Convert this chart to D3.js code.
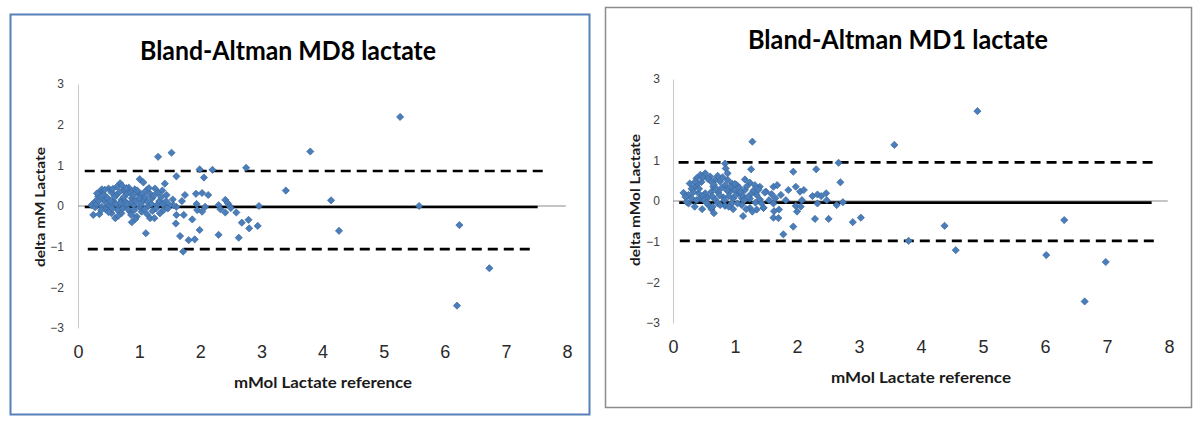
<!DOCTYPE html>
<html><head><meta charset="utf-8">
<script src="https://cdn.jsdelivr.net/npm/d3@7/dist/d3.min.js"></script>
<style>html,body{margin:0;padding:0;background:#fff;}svg{display:block;}</style>
</head><body>
<svg id="c" width="1200" height="421"></svg>
<script>
// ---------- DATA ----------
const xTicks = [0,1,2,3,4,5,6,7,8];
const yTicks = [-3,-2,-1,0,1,2,3];

const md8Title = "Bland-Altman MD8 lactate";
const md8YLabel = "delta mM Lactate";
const md1Title = "Bland-Altman MD1 lactate";
const md1YLabel = "delta mMol Lactate";
const xLabel = "mMol Lactate reference";

// [reference, delta]
const md8Points = [
 [5.27,2.19],[3.80,1.34],[3.40,0.38],[4.14,0.14],[4.27,-0.61],[5.58,0.0],[6.24,-0.47],[6.73,-1.53],[6.20,-2.45],[2.96,0.0],[2.94,-0.49],
 [2.75,0.94],[2.20,0.89],[1.99,0.90],[2.06,0.70],[1.61,0.73],[1.53,1.31],[1.55,0.16],[1.70,0.12],[1.75,0.27],[1.93,0.30],[2.03,0.32],[2.13,0.27],
 [1.61,-0.02],[1.94,0.05],[1.95,-0.10],[2.03,-0.14],[2.08,-0.02],[2.30,0.02],[2.33,-0.08],[2.41,0.15],[2.45,0.07],[2.41,-0.16],[2.48,0.0],[2.59,-0.16],
 [1.61,-0.22],[1.60,-0.43],[1.73,-0.22],[1.87,-0.33],[2.68,-0.41],[2.79,-0.34],[2.80,-0.55],[1.99,-0.59],[1.67,-0.74],[1.81,-0.84],[1.91,-0.82],
 [2.30,-0.71],[2.63,-0.78],[1.72,-1.12],[1.56,0.02],[2.50,-0.05],
 [1.31,1.21],[0.69,0.56],[1.01,0.66],[1.07,0.58],[1.42,0.55],[0.36,0.35],[0.50,0.43],[0.55,0.33],[0.33,0.23],[0.41,0.16],[0.28,0.11],[0.63,0.27],
 [0.74,0.39],[0.80,0.30],[0.85,0.35],[0.93,0.41],[0.99,0.31],[1.12,0.39],[1.18,0.30],[1.26,0.43],[1.31,0.33],[1.38,0.38],[1.45,0.27],[1.21,0.19],
 [1.07,0.15],[0.88,0.19],[0.71,0.15],[0.58,0.11],[0.47,0.07],[0.22,0.02],[0.28,-0.03],[0.39,-0.02],[0.52,0.0],[0.66,0.02],[0.77,-0.02],[0.91,0.02],
 [1.01,-0.03],[1.15,0.0],[1.29,0.02],[1.42,-0.02],[1.50,0.02],[0.25,-0.22],[0.35,-0.20],[0.55,-0.18],[0.61,-0.30],[0.71,-0.18],[0.85,-0.14],[0.88,-0.40],
 [0.96,-0.26],[1.04,-0.14],[1.18,-0.30],[1.25,-0.30],[1.34,-0.18],[1.40,-0.10],[1.11,-0.67],[0.31,0.31],[0.39,0.41],
 [0.42,0.28],[0.45,-0.08],[0.48,0.20],[0.53,0.12],[0.56,-0.06],[0.60,0.22],[0.62,0.05],[0.65,-0.10],[0.68,0.35],[0.70,0.08],[0.73,-0.06],[0.75,0.22],
 [0.78,0.10],[0.82,-0.08],[0.83,0.45],[0.86,0.08],[0.90,0.26],[0.92,-0.10],[0.95,0.12],[0.97,0.38],[1.00,0.20],[1.03,0.05],[1.05,0.30],[1.09,-0.08],
 [1.10,0.22],[1.14,0.10],[1.16,0.44],[1.20,0.05],[1.22,-0.12],[1.24,0.25],[1.28,-0.06],[1.33,0.12],[1.36,0.22],[1.39,0.05],[1.44,0.12],[1.47,-0.06],
 [0.30,0.05],[0.34,0.12],[0.38,-0.10],[0.44,0.40],[0.57,0.42],[0.64,0.48],[0.72,0.50],[0.79,0.44],[0.87,-0.22],[0.94,-0.32],[1.13,-0.20],[0.66,-0.24],
 [0.50,-0.15],[0.80,0.05]
];
// [level, start, end]
const md8Mean = [-0.025, 0.11, 7.52];
const md8Upper = [0.86, 0.11, 7.62];
const md8Lower = [-1.06, 0.16, 7.46];

const md1Points = [
 [4.91,2.21],[3.57,1.38],[3.80,-0.98],[4.38,-0.61],[4.56,-1.21],[6.31,-0.47],[6.02,-1.33],[6.98,-1.50],[6.64,-2.47],[3.03,-0.41],[2.90,-0.52],
 [2.67,0.94],[2.70,0.46],[1.94,0.72],[2.31,0.78],[1.40,0.35],[1.50,0.23],[1.59,0.17],[1.62,0.35],[1.68,0.39],[1.65,0.07],[1.74,0.15],[1.86,0.27],
 [1.98,0.35],[2.05,0.23],[2.11,0.27],[1.82,0.02],[2.08,0.02],[2.25,0.12],[2.33,0.16],[2.39,0.12],[2.47,0.19],[2.48,0.02],[2.33,-0.06],[2.64,-0.10],
 [2.74,-0.03],[1.46,-0.17],[1.62,-0.06],[1.63,-0.25],[1.71,-0.21],[1.62,-0.41],[1.70,-0.42],[1.98,-0.12],[2.06,-0.14],[2.00,-0.26],[1.94,-0.63],
 [1.78,-0.82],[2.29,-0.44],[2.51,-0.44],[1.55,0.02],
 [1.28,1.46],[0.84,0.92],[0.85,0.80],[0.88,0.68],[1.26,0.78],[0.52,0.68],[0.44,0.64],[0.60,0.60],[0.38,0.56],[0.68,0.52],[0.76,0.48],[0.27,0.43],
 [0.35,0.35],[0.46,0.47],[0.65,0.35],[0.84,0.39],[0.95,0.43],[1.03,0.39],[1.16,0.53],[1.24,0.45],[1.32,0.39],[0.17,0.20],[0.25,0.15],[0.41,0.19],
 [0.52,0.19],[0.62,0.23],[0.73,0.21],[0.92,0.23],[1.05,0.19],[1.16,0.27],[1.27,0.19],[1.35,0.15],[1.48,0.21],[0.30,0.07],[0.44,0.07],[0.57,0.09],
 [0.68,0.04],[0.81,0.09],[0.97,0.06],[1.11,0.07],[1.24,0.06],[1.40,0.04],[0.35,-0.14],[0.47,-0.20],[0.57,-0.10],[0.62,-0.20],[0.66,-0.30],[0.97,-0.20],
 [1.13,-0.37],[1.24,-0.17],[1.35,-0.21],[1.46,-0.17],[0.25,-0.06],[0.84,-0.12],[1.11,-0.10],
 [0.30,0.30],[0.33,0.22],[0.40,0.42],[0.42,0.30],[0.48,0.12],[0.50,0.02],[0.63,0.12],[0.66,0.40],[0.70,0.30],[0.72,-0.05],[0.75,0.14],[0.78,0.32],
 [0.80,0.58],[0.83,0.02],[0.87,0.26],[0.90,0.12],[0.93,0.35],[0.95,-0.05],[0.99,0.28],[1.01,0.14],[1.04,-0.06],[1.07,0.33],[1.09,0.22],[1.13,0.12],
 [1.15,0.02],[1.19,0.36],[1.21,0.10],[1.30,0.26],[1.33,-0.04],[1.38,0.28],[1.43,-0.06],[0.20,0.10],[0.22,-0.02],[0.38,0.02],[0.54,-0.04],[0.60,0.50],
 [0.72,0.62],[0.88,0.52],[1.00,0.42],[0.48,0.58],[0.56,0.55],[0.36,0.48],[0.64,-0.14],[0.76,-0.10],[0.90,-0.14],[1.18,-0.20],[1.28,-0.26]
];
const md1Mean = [-0.04, 0.10, 7.72];
const md1Upper = [0.95, 0.09, 7.82];
const md1Lower = [-0.98, 0.11, 7.82];

// ---------- DRAW ----------
const svg = d3.select("#c");

function panel(cfg) {
  const g = svg.append("g");
  g.append("rect").attr("x", cfg.box[0]).attr("y", cfg.box[1]).attr("width", cfg.box[2]).attr("height", cfg.box[3])
    .attr("fill", "#fff").attr("stroke", cfg.boxColor).attr("stroke-width", cfg.boxWidth);

  const x = d3.scaleLinear().domain([0, 8]).range(cfg.xr);
  const y = d3.scaleLinear().domain([-3, 3]).range(cfg.yr);

  const ya = g.append("g").attr("transform", `translate(${x(0)},0)`)
    .call(d3.axisLeft(y).tickValues(yTicks).tickSize(0).tickPadding(cfg.yPad).tickFormat(d3.format("d")));
  ya.select(".domain").attr("stroke", "#c8c8c8").attr("stroke-width", 1);
  ya.selectAll("text").attr("font-family", "Liberation Sans, Arial, sans-serif").attr("font-size", 12).attr("fill", "#404040");

  const xa = g.append("g").attr("transform", `translate(0,${cfg.xLabTop})`)
    .call(d3.axisBottom(x).tickValues(xTicks).tickSize(0).tickPadding(0).tickFormat(d3.format("d")));
  xa.select(".domain").remove();
  xa.selectAll("text").attr("font-family", "Liberation Sans, Arial, sans-serif").attr("font-size", 18).attr("fill", "#2a2a2a");

  g.append("line").attr("x1", x(0)).attr("x2", x(7.98)).attr("y1", y(0)).attr("y2", y(0))
    .attr("stroke", "#8a8a8a").attr("stroke-width", 1);

  const lines = [
    {v: cfg.upper, dash: "10,6", w: 2.6},
    {v: cfg.lower, dash: "10,6", w: 2.6},
    {v: cfg.mean, dash: null, w: 2.6}
  ];
  lines.forEach(l => {
    g.append("line").attr("x1", x(l.v[1])).attr("x2", x(l.v[2])).attr("y1", y(l.v[0])).attr("y2", y(l.v[0]))
      .attr("stroke", "#000").attr("stroke-width", l.w).attr("stroke-dasharray", l.dash);
  });

  const r = 3.6;
  const diamond = `M0,${-r}L${r},0L0,${r}L${-r},0Z`;
  g.append("g").selectAll("path").data(cfg.points).join("path")
    .attr("d", diamond)
    .attr("transform", d => `translate(${x(d[0])},${y(d[1])})`)
    .attr("fill", "#4a7ebb").attr("stroke", "#3a669c").attr("stroke-width", 0.7);

  g.append("text").attr("x", cfg.title[1]).attr("y", cfg.title[2]).attr("text-anchor", "middle")
    .attr("font-family", "Lato, 'Open Sans', sans-serif").attr("font-weight", "bold").attr("font-size", 26)
    .attr("textLength", cfg.title[3]).attr("lengthAdjust", "spacingAndGlyphs").attr("fill", "#000").text(cfg.title[0]);
  g.append("text").attr("x", cfg.xt[0]).attr("y", cfg.xt[1]).attr("text-anchor", "middle")
    .attr("font-family", "Lato, 'Open Sans', sans-serif").attr("font-weight", "bold").attr("font-size", 16)
    .attr("textLength", cfg.xt[2]).attr("lengthAdjust", "spacingAndGlyphs").attr("fill", "#1a1a1a").text(xLabel);
  g.append("text").attr("transform", `translate(${cfg.yt[0]},${cfg.yt[1]}) rotate(-90)`).attr("text-anchor", "middle")
    .attr("dy", "0.35em")
    .attr("font-family", "Lato, 'Open Sans', sans-serif").attr("font-weight", "bold").attr("font-size", 14)
    .attr("textLength", cfg.yt[3]).attr("lengthAdjust", "spacingAndGlyphs").attr("fill", "#1a1a1a").text(cfg.yt[2]);
}

panel({
  box: [10.5, 14.5, 579, 400], boxColor: "#5580b8", boxWidth: 2,
  xr: [78, 567], yr: [328, 84], yPad: 14, xLabTop: 345,
  points: md8Points, mean: md8Mean, upper: md8Upper, lower: md8Lower,
  title: [md8Title, 288, 60, 296], xt: [323, 388, 178], yt: [40, 207, md8YLabel, 120]
});
panel({
  box: [605.5, 7.5, 586, 400], boxColor: "#8c8c8c", boxWidth: 1.5,
  xr: [673, 1169], yr: [323, 79], yPad: 13, xLabTop: 340,
  points: md1Points, mean: md1Mean, upper: md1Upper, lower: md1Lower,
  title: [md1Title, 898, 49, 300], xt: [921, 383, 180], yt: [635, 200, md1YLabel, 132]
});
</script>
</body></html>
